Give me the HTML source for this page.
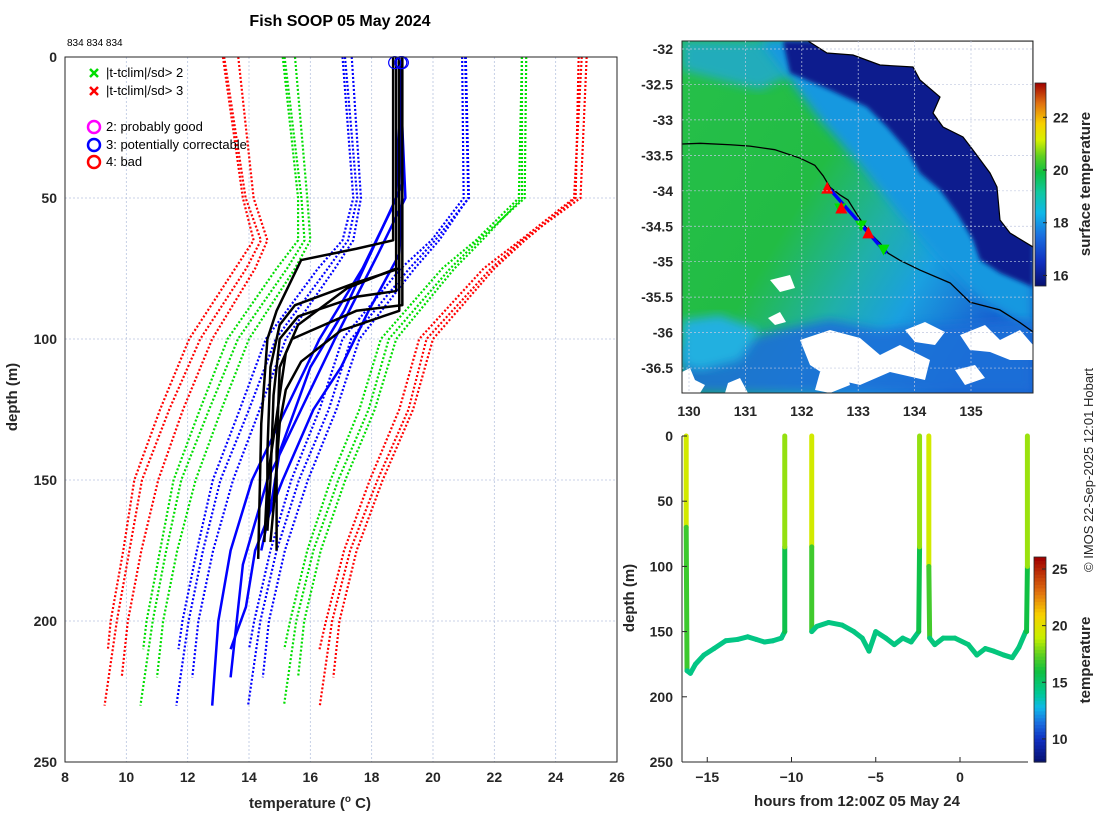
<!DOCTYPE html>
<html><head><meta charset="utf-8">
<style>
body{margin:0;background:#fff;}
svg{display:block;font-family:"Liberation Sans","DejaVu Sans",sans-serif;}
.tk{font-size:14px;font-weight:bold;fill:#262626;}
.lab{font-size:15px;font-weight:bold;fill:#262626;}
</style></head>
<body>
<svg id="fig" width="1100" height="820" viewBox="0 0 1100 820">
<defs>
<clipPath id="mapclip"><rect x="682" y="41" width="351" height="352"/></clipPath>
<filter id="blur4"><feGaussianBlur stdDeviation="5"/></filter>
<filter id="blur2"><feGaussianBlur stdDeviation="2"/></filter>
<linearGradient id="cb1" x1="0" y1="1" x2="0" y2="0">
<stop offset="0" stop-color="#061070"/><stop offset="0.12" stop-color="#1030c0"/><stop offset="0.25" stop-color="#1a70e0"/><stop offset="0.36" stop-color="#10b8e8"/><stop offset="0.46" stop-color="#10c8a0"/><stop offset="0.56" stop-color="#10c040"/><stop offset="0.64" stop-color="#60d020"/><stop offset="0.72" stop-color="#d8f000"/><stop offset="0.8" stop-color="#f8d000"/><stop offset="0.9" stop-color="#e07010"/><stop offset="1" stop-color="#a00000"/>
</linearGradient>
<linearGradient id="seaG" x1="0" y1="0" x2="1" y2="0.6">
<stop offset="0" stop-color="#26c04a"/><stop offset="0.45" stop-color="#22bc44"/><stop offset="0.65" stop-color="#20b0a8"/><stop offset="0.8" stop-color="#1aa0e0"/><stop offset="1" stop-color="#1860d0"/>
</linearGradient>
</defs>
<g id="left"></g>
<g id="map">
<g clip-path="url(#mapclip)">
<rect x="682" y="41" width="351" height="352" fill="url(#seaG)"/>
<polygon points="682,41 790,41 800,70 760,90 720,80 682,70" fill="#20a8d8" filter="url(#blur4)" opacity="0.8"/>
<polygon points="760,41 1033,41 1033,330 980,300 940,260 900,215 860,165 820,120 790,80" fill="#1898e0" filter="url(#blur4)"/>
<polygon points="783,41 1033,41 1033,287 1000,273 980,260 973,240 957,213 940,190 920,173 907,150 887,127 867,107 830,90 790,73" fill="#0a1a8e" filter="url(#blur2)"/>
<polygon points="682,350 700,330 740,340 780,330 830,320 880,330 930,325 1033,320 1033,393 682,393" fill="#1a70d8" filter="url(#blur4)" opacity="0.9"/>
<polygon points="682,320 720,315 760,330 740,360 700,370 682,365" fill="#20b0e0" filter="url(#blur4)"/>
<g fill="#fff">
<polygon points="800,340 830,330 860,338 880,355 900,345 930,360 925,380 890,372 860,385 830,378 810,365"/>
<polygon points="905,330 925,322 945,332 935,345 915,342"/>
<polygon points="960,335 985,325 1000,340 1020,330 1033,345 1033,360 1010,360 990,352 970,350"/>
<polygon points="682,372 690,368 695,380 705,385 700,393 682,393"/>
<polygon points="770,280 790,275 795,288 780,292"/>
<polygon points="768,318 780,312 786,322 775,325"/>
<polygon points="820,372 845,368 850,385 830,393 815,390"/>
<polygon points="728,383 740,378 748,393 725,393"/>
<polygon points="955,370 975,365 985,378 965,385"/>
</g>
<polygon points="808,41 827,53 853,55 880,65 913,67 920,80 940,97 933,113 943,127 963,137 973,150 990,173 997,187 1000,220 1010,233 1033,247 1033,41" fill="#fff" stroke="#000" stroke-width="1.2"/>
<g id="track"></g>
</g>
<rect x="682" y="41" width="351" height="352" fill="none" stroke="#262626" stroke-width="1"/>
</g>
<g id="mapaxes"></g>
<g id="br"></g>
<g id="cbars"></g>
<text x="340" y="26" text-anchor="middle" style="font-size:16px;font-weight:bold;fill:#000">Fish SOOP 05 May 2024</text>
<text x="67" y="46" style="font-size:10px;fill:#000">834 834 834</text>
<text transform="translate(1093,470) rotate(-90)" text-anchor="middle" style="font-size:13px;fill:#262626">© IMOS 22-Sep-2025 12:01 Hobart</text>
</svg>
<script>
// ===== Profile plot data =====
const climDepthsA=[0,50,65,75,100,125,150,175,200,230];
const climMeanA=[19.1,19.35,18.65,17.9,16.1,15.3,14.35,13.7,13.2,12.8];
const climSdA=[1.97,1.82,1.42,1.33,1.23,1.3,1.28,1.2,1.17,1.17];
const climDepthsB=[0,50,65,75,100,125,150,175,200,220];
const climMeanB=[19.2,19.4,18.8,18.1,16.4,15.6,14.7,14.0,13.5,13.3];
const climSdB=[1.85,1.75,1.4,1.3,1.2,1.25,1.22,1.17,1.15,1.15];
const climDepthsC=[0,50,65,75,100,125,150,175,200,210];
const climMeanC=[19.0,19.2,18.5,17.6,15.8,15.0,14.1,13.5,13.0,12.85];
const climSdC=[1.95,1.8,1.45,1.35,1.25,1.3,1.28,1.2,1.17,1.15];
const blackDepths=[[0,65,68,72,90,100,130,178],[0,75,80,88,95,110,140,165],[0,83,85,92,100,120,150,168],[0,88,90,100,110,140,175],[0,90,97,108,118,130,160,172],[0,75,82,95,105,150,172]];
const blackTemps=[[18.7,18.7,17.5,15.7,14.9,14.6,14.4,14.3],[18.9,18.9,17.5,15.5,15.0,14.7,14.6,14.6],[18.8,18.8,17.5,15.6,15.0,14.8,14.7,14.6],[19.0,19.0,17.5,15.4,15.0,14.9,14.9],[18.9,18.9,17.0,15.7,15.2,15.0,14.8,14.7],[18.8,18.8,17.2,15.6,15.2,14.6,14.5]];
const blueDepths=[[0,45,55,75,100,125,150,175,200,230],[0,50,70,100,125,150,180,200,220],[0,50,70,90,110,125,150,175,195,210],[0,50,90,110,140,160,175]];
const blueTemps=[[18.9,19.0,18.6,17.7,16.3,15.2,14.1,13.4,13.0,12.8],[18.9,19.1,18.2,16.8,15.7,14.6,13.8,13.6,13.4],[18.9,19.0,18.9,17.9,17.0,16.1,15.1,14.2,13.9,13.4],[19.0,18.8,17.1,16.0,15.0,14.7,14.4]];
const flagTemps=[18.75,18.95,19.0];
const xTicks=[8,10,12,14,16,18,20,22,24,26];
const yTicks=[0,50,100,150,200,250];
// ===== Map data =====
const trackLon=[129.88,130.20,130.73,131.08,131.52,131.97,132.23,132.38,132.50,132.68,132.82,133.00,133.21,133.39,133.53,133.74,134.10,134.63,134.98,135.51,135.87,136.10];
const trackLat=[-33.34,-33.33,-33.35,-33.37,-33.42,-33.54,-33.64,-33.79,-33.95,-34.06,-34.13,-34.36,-34.60,-34.74,-34.88,-34.98,-35.12,-35.30,-35.57,-35.68,-35.86,-35.99];
const redMarkLon=[132.45,132.70,133.18];
const redMarkLat=[-33.97,-34.25,-34.60];
const greenMarkLon=[132.68,133.05,133.45];
const greenMarkLat=[-34.25,-34.49,-34.83];
const mapLonTicks=[130,131,132,133,134,135];
const mapLatTicks=[-32,-32.5,-33,-33.5,-34,-34.5,-35,-35.5,-36,-36.5];
// ===== Time-depth data =====
const segHours=[[-16.25,-16.25,-16.2,-16.0,-15.7,-15.2,-14.6,-13.9,-13.2,-12.6,-12.1,-11.6,-11.1,-10.6,-10.4,-10.4,-10.4],[-8.8,-8.8,-8.8,-8.5,-7.8,-7.0,-6.3,-5.8,-5.4,-5.0,-4.4,-3.9,-3.4,-2.9,-2.45,-2.4,-2.4],[-1.85,-1.85,-1.8,-1.5,-1.0,-0.3,0.5,1.0,1.5,2.0,2.6,3.1,3.5,3.9,3.95,4.0,4.0]];
const segDepths=[[0,70,180,182,175,168,163,157,156,154,156,158,157,155,150,85,0],[0,85,150,146,143,145,150,155,165,150,155,160,155,158,150,85,0],[0,100,155,160,155,155,160,168,163,165,168,170,162,150,150,100,0]];
const segTemps=[[19.5,19.3,14.4,14.4,14.4,14.4,14.4,14.4,14.4,14.4,14.4,14.4,14.4,14.4,14.5,17,19.5],[19.5,19.3,14.5,14.5,14.5,14.5,14.5,14.5,14.5,14.5,14.5,14.5,14.5,14.5,14.6,17,19.5],[19.5,19.3,14.6,14.6,14.6,14.6,14.6,14.6,14.6,14.6,14.6,14.6,14.6,14.6,14.7,17.2,19.5]];
const hourTicks=[-15,-10,-5,0];
const brDepthTicks=[0,50,100,150,200,250];
const cb1Ticks=[16,18,20,22];
const cb2Ticks=[10,15,20,25];

const NS='http://www.w3.org/2000/svg';
function mk(tag,attrs,parent){const e=document.createElementNS(NS,tag);for(const k in attrs)e.setAttribute(k,attrs[k]);parent.appendChild(e);return e;}
function txt(s,x,y,cls,anchor,parent){const t=mk('text',{x:x,y:y,class:cls,'text-anchor':anchor},parent);t.textContent=s;return t;}

// ---- Left profile plot ----
const L=document.getElementById('left');
const X0=65,X1=617,Y0=57,Y1=762;
const xT=t=>X0+(t-8)/18*(X1-X0);
const yD=d=>Y0+d/250*(Y1-Y0);
for(const t of xTicks){
  const g=mk('line',{x1:xT(t),x2:xT(t),y1:Y0,y2:Y1,stroke:'#b8c4e0','stroke-width':0.8,'stroke-dasharray':'2,2'},L);
  
  
  const tl=txt(String(t),xT(t),782,'tk','middle',L);
  
  
}
for(const d of yTicks){
  const g=mk('line',{x1:X0,x2:X1,y1:yD(d),y2:yD(d),stroke:'#b8c4e0','stroke-width':0.8,'stroke-dasharray':'2,2'},L);
  
  
  const tl=txt(String(d),57,yD(d)+5,'tk','end',L);
  
  
}
function climLines(depths,mean,sd,name){
  const cols={3:'#ff0000',2:'#00dd00',1:'#0000ff'};
  for(const k of [3,2,1]){for(const s of [-1,1]){
    const pts=depths.map((d,i)=>xT(mean[i]+s*k*sd[i])+','+yD(d)).join(' ');
    const p=mk('polyline',{points:pts,fill:'none',stroke:cols[k],'stroke-width':2.2,'stroke-dasharray':'2,2'},L);
    
    
  }}
}
climLines(climDepthsA,climMeanA,climSdA,'clim-a');
climLines(climDepthsB,climMeanB,climSdB,'clim-b');
climLines(climDepthsC,climMeanC,climSdC,'clim-c');
blueDepths.forEach((ds,j)=>{
  const p=mk('polyline',{points:ds.map((d,i)=>xT(blueTemps[j][i])+','+yD(d)).join(' '),fill:'none',stroke:'#0000ff','stroke-width':2.5,'stroke-linejoin':'round'},L);
  
  
});
blackDepths.forEach((ds,j)=>{
  const p=mk('polyline',{points:ds.map((d,i)=>xT(blackTemps[j][i])+','+yD(d)).join(' '),fill:'none',stroke:'#000','stroke-width':2.5,'stroke-linejoin':'round'},L);
  
  
});
flagTemps.forEach(t=>{
  const c=mk('circle',{cx:xT(t),cy:yD(2),r:6,fill:'none',stroke:'#0000ff','stroke-width':1.2},L);
  
  
});
const fr=mk('rect',{x:X0,y:Y0,width:X1-X0,height:Y1-Y0,fill:'none',stroke:'#262626','stroke-width':1},L);


// legend
const leg=mk('g',{},L);


function xmark(x,y,c){mk('path',{d:`M${x-4},${y-4}L${x+4},${y+4}M${x-4},${y+4}L${x+4},${y-4}`,stroke:c,'stroke-width':2.5},leg);}
xmark(94,73,'#00dd00');xmark(94,91,'#ff0000');
[['#ff00ff',127],['#0000ff',145],['#ff0000',162]].forEach(a=>mk('circle',{cx:94,cy:a[1],r:6,fill:'none',stroke:a[0],'stroke-width':2.5},leg));
[['|t-tclim|/sd> 2',77],['|t-tclim|/sd> 3',95],['2: probably good',131],['3: potentially correctable',149],['4: bad',166]].forEach(a=>{const t=txt(a[0],106,a[1],'','start',leg);t.setAttribute('style','font-size:13px;fill:#000');});
const xl=txt('temperature (',310,808,'lab','middle',L);
xl.innerHTML='temperature (<tspan dy="-6" style="font-size:10px">o</tspan><tspan dy="6"> C)</tspan>';


const yl=mk('text',{transform:'translate(17,397) rotate(-90)','text-anchor':'middle',class:'lab'},L);yl.textContent='depth (m)';



// ---- Map ----
const MX=lon=>689+(lon-130)*56.4;
const MY=lat=>49+(-32-lat)*70.9;
const TR=document.getElementById('track');
const tl=mk('polyline',{points:trackLon.map((l,i)=>MX(l)+','+MY(trackLat[i])).join(' '),fill:'none',stroke:'#000','stroke-width':1.3},TR);


const bs=mk('line',{x1:MX(132.5),y1:MY(-33.98),x2:MX(133.5),y2:MY(-34.88),stroke:'#0000ff','stroke-width':3.5},TR);


greenMarkLon.forEach((l,i)=>{const x=MX(l),y=MY(greenMarkLat[i]);const p=mk('polygon',{points:`${x-6},${y-5} ${x+6},${y-5} ${x},${y+6}`,fill:'#00dd00'},TR);

});
redMarkLon.forEach((l,i)=>{const x=MX(l),y=MY(redMarkLat[i]);const p=mk('polygon',{points:`${x-6},${y+5} ${x+6},${y+5} ${x},${y-7}`,fill:'#ff0000'},TR);

});
const MA=document.getElementById('mapaxes');
mapLonTicks.forEach(l=>{mk('line',{x1:MX(l),x2:MX(l),y1:41,y2:393,stroke:'#c0c8e0','stroke-width':0.7,'stroke-dasharray':'2,2'},MA);
  const t=txt(String(l),MX(l),416,'tk','middle',MA);
  
  });
mapLatTicks.forEach(l=>{mk('line',{x1:682,x2:1033,y1:MY(l),y2:MY(l),stroke:'#c0c8e0','stroke-width':0.7,'stroke-dasharray':'2,2'},MA);
  const t=txt(String(l),673,MY(l)+5,'tk','end',MA);
  
  });

// ---- Bottom-right time/depth plot ----
const BR=document.getElementById('br');
const HX=h=>960+h*16.85;
const BY=d=>436+d/250*326;
function tcol(t){
  const st=[[8,[6,16,112]],[10,[16,48,192]],[11.5,[26,112,224]],[12.8,[16,184,232]],[14,[0,200,150]],[16,[16,192,64]],[17.5,[96,208,32]],[19,[200,240,0]],[21,[248,208,0]],[23,[224,112,16]],[26,[160,0,0]]];
  if(t<=st[0][0])return 'rgb('+st[0][1]+')';
  for(let i=1;i<st.length;i++){if(t<=st[i][0]){const f=(t-st[i-1][0])/(st[i][0]-st[i-1][0]);const c=st[i-1][1].map((v,k)=>Math.round(v+(st[i][1][k]-v)*f));return 'rgb('+c+')';}}
  return 'rgb(160,0,0)';
}
segHours.forEach((hs,j)=>{
  for(let i=0;i<hs.length-1;i++){
    const s=mk('line',{x1:HX(hs[i]),y1:BY(segDepths[j][i]),x2:HX(hs[i+1]),y2:BY(segDepths[j][i+1]),stroke:tcol((segTemps[j][i]+segTemps[j][i+1])/2),'stroke-width':5,'stroke-linecap':'round'},BR);
    
    
  }
});
mk('line',{x1:682,x2:682,y1:436,y2:762,stroke:'#262626'},BR);
mk('line',{x1:682,x2:1028,y1:762,y2:762,stroke:'#262626'},BR);
hourTicks.forEach(h=>{mk('line',{x1:HX(h),x2:HX(h),y1:762,y2:757,stroke:'#262626'},BR);
  const t=txt(String(h).replace('-','−'),HX(h),782,'tk','middle',BR);
  
  });
brDepthTicks.forEach(d=>{mk('line',{x1:682,x2:687,y1:BY(d),y2:BY(d),stroke:'#262626'},BR);
  const t=txt(String(d),673,BY(d)+5,'tk','end',BR);
  
  });
const bx=txt('hours from 12:00Z 05 May 24',857,806,'lab','middle',BR);


const by=mk('text',{transform:'translate(634,598) rotate(-90)','text-anchor':'middle',class:'lab'},BR);by.textContent='depth (m)';



// ---- Colorbars ----
const CB=document.getElementById('cbars');
function colorbar(x,y0,y1,vmin,vmax,ticks,useGrad,label,ly,name){
  const g=mk('g',{},CB);
  
  
  if(useGrad){mk('rect',{x:x,y:y0,width:11,height:y1-y0,fill:'url(#cb1)',stroke:'#262626','stroke-width':0.8},g);}
  else{const n=60;for(let i=0;i<n;i++){const v=vmin+(vmax-vmin)*(i+0.5)/n;const yy=y1-(i+1)*(y1-y0)/n;mk('rect',{x:x,y:yy,width:12,height:(y1-y0)/n+0.6,fill:tcol(v)},g);}
    mk('rect',{x:x,y:y0,width:12,height:y1-y0,fill:'none',stroke:'#262626','stroke-width':0.8},g);}
  ticks.forEach(t=>{const yy=y1-(t-vmin)/(vmax-vmin)*(y1-y0);mk('line',{x1:x+8,x2:x+12,y1:yy,y2:yy,stroke:'#262626'},g);txt(String(t),x+18,yy+5,'tk','start',g);});
  const lt=mk('text',{transform:`translate(1090,${ly}) rotate(-90)`,'text-anchor':'middle',class:'lab'},g);lt.textContent=label;
}
colorbar(1035,83,286,15.6,23.3,cb1Ticks,true,'surface temperature',184,'sst-colorbar');
colorbar(1034,557,762,7.96,26.06,cb2Ticks,false,'temperature',660,'temperature-colorbar');
</script>
</body></html>
